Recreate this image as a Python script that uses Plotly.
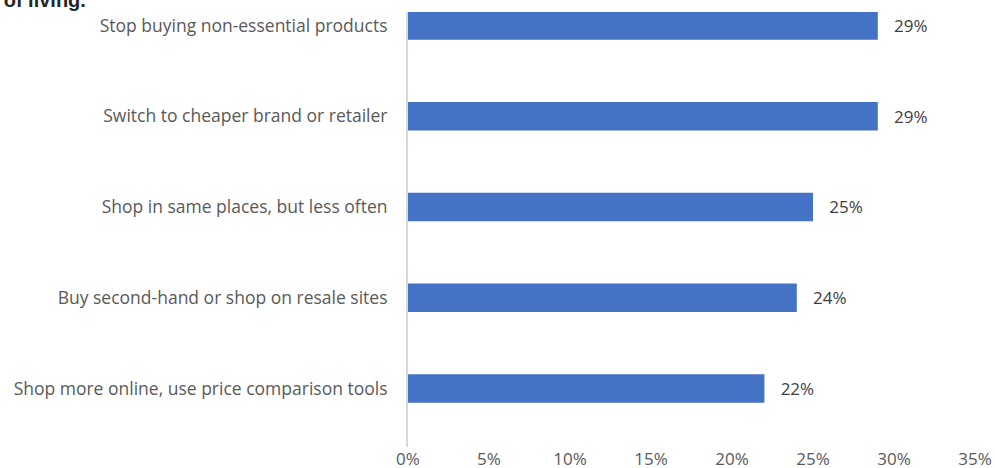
import plotly.graph_objects as go

categories = [
    "Stop buying non-essential products",
    "Switch to cheaper brand or retailer",
    "Shop in same places, but less often",
    "Buy second-hand or shop on resale sites",
    "Shop more online, use price comparison tools",
]
shares = [0.29, 0.29, 0.25, 0.24, 0.22]
x_ticks = [0, 0.05, 0.10, 0.15, 0.20, 0.25, 0.30, 0.35]

BAR_BLUE = "#4472C4"
TEXT_GREY = "#595959"
FONT = "Open Sans"

fig = go.Figure(
    go.Bar(
        x=shares,
        y=categories,
        orientation="h",
        marker=dict(color=BAR_BLUE, line=dict(width=0)),
        texttemplate="   %{x:.0%}",
        textposition="outside",
        textfont=dict(family=FONT, size=17, color="#404040"),
        cliponaxis=False,
        hoverinfo="skip",
    )
)

fig.update_layout(
    width=995,
    height=468,
    margin=dict(l=408, r=20, t=12, b=21),
    paper_bgcolor="white",
    plot_bgcolor="white",
    bargap=0.686,
    showlegend=False,
    font=dict(family=FONT, size=17, color=TEXT_GREY),
)

fig.update_xaxes(
    range=[0, 0.35],
    tickvals=x_ticks,
    tickformat=".0%",
    showgrid=False,
    zeroline=False,
    showline=False,
    ticks="",
    automargin=False,
    tickfont=dict(family=FONT, size=17, color=TEXT_GREY),
)

fig.update_yaxes(
    type="category",
    categoryorder="array",
    categoryarray=categories,
    range=[4.645, -0.149],
    showgrid=False,
    zeroline=False,
    showline=True,
    linecolor="#D9D9D9",
    linewidth=2,
    ticks="",
    automargin=False,
    ticklabelstandoff=15,
    tickfont=dict(family=FONT, size=17.5, color=TEXT_GREY),
)

# chart title, mostly cropped off the top of the frame
fig.add_annotation(
    text="<b>cost of living.</b>",
    xref="paper",
    yref="paper",
    x=0,
    xshift=-320,
    y=1,
    yshift=-1,
    xanchor="right",
    yanchor="bottom",
    showarrow=False,
    font=dict(family="Liberation Sans", size=20, color="#262626"),
)

# drop the default 8px body margin so the figure fills the window exactly
fig.write_html(
    "out.html",
    config={"displayModeBar": False},
    post_script="document.body.style.margin='0';document.body.style.overflow='hidden';",
)
